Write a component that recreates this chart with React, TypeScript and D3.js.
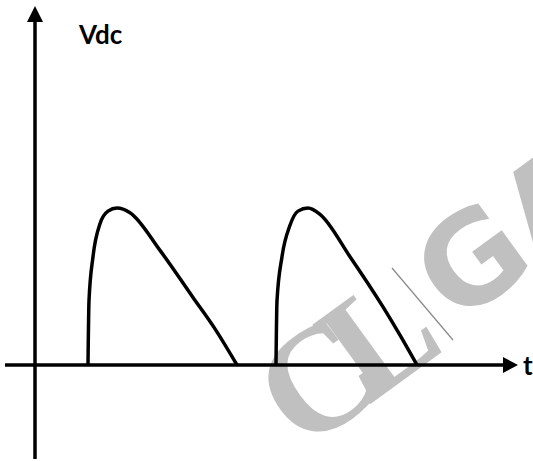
import React from "react";
import * as d3 from "d3";

// Time (arbitrary units) and normalized Vdc values
const pulse1T = [53, 54, 58, 65, 73, 82, 95, 125, 158, 180, 202];
const pulse1V = [0, 0.41, 0.69, 0.9, 0.98, 1.0, 0.97, 0.73, 0.43, 0.23, 0];
const pulse2T = [241, 242, 247, 255, 263, 273, 285, 315, 348, 365, 382];
const pulse2V = [0, 0.41, 0.69, 0.89, 0.98, 1.0, 0.96, 0.69, 0.37, 0.19, 0];
const yLabel = "Vdc";
const xLabel = "t";

const W = 533;
const H = 461;

export default function App() {
  const x = d3.scaleLinear().domain([0, 480]).range([35, 515]);
  const y = d3.scaleLinear().domain([0, 1]).range([365, 208]);

  const line = d3
    .line<[number, number]>()
    .x((d) => x(d[0]))
    .y((d) => y(d[1]))
    .curve(d3.curveMonotoneX);

  const p1 = pulse1T.map((t, i) => [t, pulse1V[i]] as [number, number]);
  const p2 = pulse2T.map((t, i) => [t, pulse2V[i]] as [number, number]);

  const x0 = x(0);
  const y0 = y(0);
  const rot = -36;

  return (
    <svg
      width={W}
      height={H}
      style={{ position: "absolute", left: 0, top: 0, background: "#fff" }}
    >
      {/* watermark */}
      <g fill="#c0c0c0">
        <text
          transform={`translate(303,453) rotate(${rot})`}
          fontFamily="Liberation Serif"
          fontWeight="bold"
          fontSize={150}
          letterSpacing={-28}
        >
          CL
        </text>
        <text
          transform={`translate(456,326) rotate(${rot})`}
          fontFamily="DejaVu Sans"
          fontWeight="bold"
          fontSize={125}
        >
          GA
        </text>
      </g>
      <line x1={392} y1={268} x2={453} y2={340} stroke="#888" strokeWidth={1.2} />

      {/* y axis */}
      <line x1={x0} y1={459} x2={x0} y2={20} stroke="#000" strokeWidth={3.5} />
      <path d={`M${x0},6 L${x0 - 8},22 L${x0 + 8},22 Z`} fill="#000" />
      {/* x axis */}
      <line x1={5} y1={y0} x2={505} y2={y0} stroke="#000" strokeWidth={3.5} />
      <path d={`M518,${y0} L503,${y0 - 8} L503,${y0 + 8} Z`} fill="#000" />

      {/* pulses */}
      <path d={line(p1) || ""} fill="none" stroke="#000" strokeWidth={3.5} strokeLinejoin="round" />
      <path d={line(p2) || ""} fill="none" stroke="#000" strokeWidth={3.5} strokeLinejoin="round" />

      <text x={79} y={44} fontFamily="Lato" fontWeight="bold" fontSize={26} fill="#000">
        {yLabel}
      </text>
      <text x={523} y={375} fontFamily="Lato" fontWeight="bold" fontSize={26} fill="#000">
        {xLabel}
      </text>
    </svg>
  );
}
